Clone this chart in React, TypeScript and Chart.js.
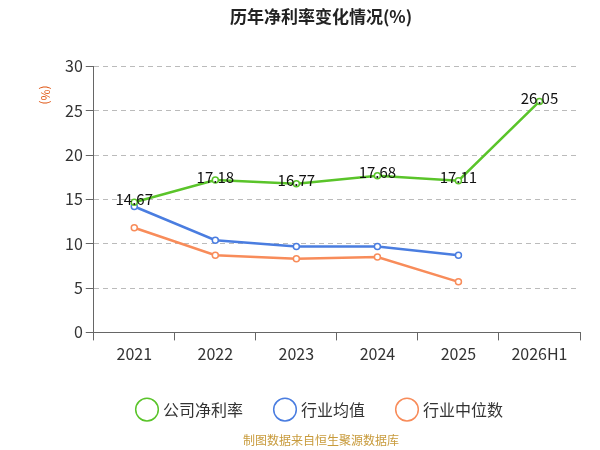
import React, { useEffect, useRef } from "react";
import { Chart, registerables } from "chart.js";
Chart.register(...registerables);

const categories = ["2021", "2022", "2023", "2024", "2025", "2026H1"];
const companyNet = [14.67, 17.18, 16.77, 17.68, 17.11, 26.05];
const industryAvg = [14.2, 10.4, 9.7, 9.7, 8.7, null];
const industryMedian = [11.8, 8.7, 8.3, 8.5, 5.7, null];
const yTicks = [0, 5, 10, 15, 20, 25, 30];

const font = "'Noto Sans CJK SC', 'Noto Sans', sans-serif";

export default function App() {
  const ref = useRef<HTMLCanvasElement>(null);
  useEffect(() => {
    const extra = {
      id: "extra",
      afterDatasetsDraw(chart: any) {
        const ctx = chart.ctx;
        const meta = chart.getDatasetMeta(0);
        ctx.save();
        ctx.font = `15px ${font}`;
        ctx.fillStyle = "#111";
        ctx.textAlign = "center";
        ctx.textBaseline = "middle";
        meta.data.forEach((p: any, i: number) => {
          ctx.fillText(companyNet[i].toFixed(2), p.x, p.y - 3);
        });
        ctx.translate(46, 95);
        ctx.rotate(Math.PI / 2);
        ctx.font = `12px ${font}`;
        ctx.fillStyle = "#e05a1a";
        ctx.fillText("(%)", 0, 0);
        ctx.restore();
      },
    };
    const mk = (label: string, data: any[], color: string) => ({
      label, data, borderColor: color, backgroundColor: "#fff",
      pointBorderColor: color, pointBackgroundColor: "#fff",
      borderWidth: 2.5, pointRadius: 3, pointBorderWidth: 1.5, tension: 0, spanGaps: false,
    });
    const chart = new Chart(ref.current!, {
      type: "line",
      data: {
        labels: categories,
        datasets: [
          mk("公司净利率", companyNet, "#5ac42a"),
          mk("行业均值", industryAvg, "#4a7de0"),
          mk("行业中位数", industryMedian, "#f88c5a"),
        ],
      },
      options: {
        animation: false,
        responsive: false,
        layout: { padding: { left: 62, right: 20, top: 0, bottom: 0 } },
        scales: {
          x: {
            offset: true,
            grid: { display: true, drawOnChartArea: false, offset: true, tickLength: 8, tickColor: "#666" },
            border: { color: "#666" },
            ticks: { color: "#333", font: { size: 16, family: font }, padding: 4 },
          },
          y: {
            min: 0, max: 30,
            afterBuildTicks: (s: any) => { s.ticks = yTicks.map((v) => ({ value: v })); },
            grid: { color: "#bbb", tickLength: 8, tickColor: "#666" } as any,
            border: { dash: [5, 4], color: "#666" } as any,
            ticks: { color: "#333", font: { size: 16, family: font } },
          },
        },
        plugins: {
          title: { display: true, text: "历年净利率变化情况(%)", font: { size: 17, weight: "bold", family: font }, color: "#222", padding: { top: 6, bottom: 40 } },
          legend: {
            position: "bottom",
            labels: { usePointStyle: true, pointStyle: "circle", font: { size: 16, family: font }, color: "#333", padding: 34 },
          },
          subtitle: { display: true, position: "bottom", text: "制图数据来自恒生聚源数据库", color: "#c89b3c", font: { size: 12, family: font }, padding: { top: 6, bottom: 2 } },
          tooltip: { enabled: false },
        },
      },
      plugins: [extra],
    });
    return () => chart.destroy();
  }, []);
  return (
    <div style={{ position: "fixed", left: 0, top: 0, width: 600, height: 450, background: "#fff" }}>
      <canvas ref={ref} width={600} height={450} />
    </div>
  );
}
